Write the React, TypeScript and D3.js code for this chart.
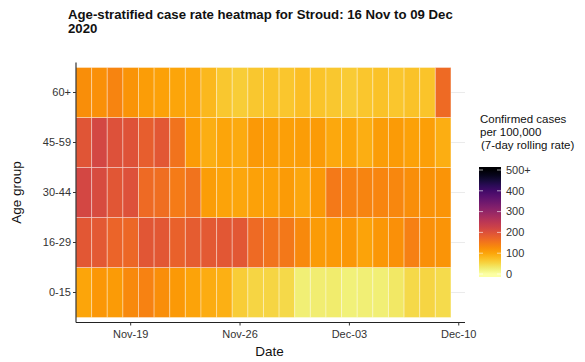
import React from "react";
import * as d3 from "d3";

const ageGroups = ["0-15", "16-29", "30-44", "45-59", "60+"];
const startDate = "2020-11-16";
const xTickLabels = ["2020-11-19", "2020-11-26", "2020-12-03", "2020-12-10"];
const legendTicks = [0, 100, 200, 300, 400, 500];

const rate0_15 = [100, 115, 110, 130, 137, 125, 112, 103, 92, 88, 60, 52, 52, 48, 25, 27, 28, 22, 24, 25, 33, 47, 52, 45];
const rate16_29 = [190, 188, 172, 168, 192, 190, 177, 185, 188, 190, 190, 166, 155, 150, 130, 110, 113, 115, 102, 115, 122, 140, 122, 118];
const rate30_44 = [215, 210, 192, 200, 165, 162, 145, 155, 108, 102, 98, 105, 105, 110, 98, 113, 148, 138, 135, 133, 132, 125, 120, 118];
const rate45_59 = [195, 215, 200, 198, 180, 190, 155, 110, 90, 100, 95, 112, 108, 106, 108, 110, 97, 100, 90, 108, 110, 105, 107, 90];
const rate60p = [125, 122, 135, 118, 108, 104, 100, 98, 82, 65, 60, 65, 70, 68, 75, 70, 65, 62, 68, 72, 68, 72, 70, 165];

const seriesByAge: Record<string, number[]> = {
  "0-15": rate0_15,
  "16-29": rate16_29,
  "30-44": rate30_44,
  "45-59": rate45_59,
  "60+": rate60p,
};

const DAY = 86400000;

export default function App() {
  const W = 585, H = 362;
  const left = 76, right = 465, top = 62.5, bottom = 322.5;
  const t0 = new Date(startDate + "T00:00:00Z").getTime();
  const x = d3.scaleUtc()
    .domain([new Date(t0 - 0.5 * DAY), new Date(t0 + 24.4 * DAY)])
    .range([left, right]);
  const y = d3.scaleBand().domain([...ageGroups].reverse()).range([top + 5, bottom - 5]).padding(0);
  const color = (v: number) => d3.interpolateInferno(1 - Math.min(v, 500) / 500);

  const cells: { date: number; age: string; v: number }[] = [];
  ageGroups.forEach((a) => {
    seriesByAge[a].forEach((v, i) => cells.push({ date: t0 + i * DAY, age: a, v }));
  });

  const fmt = d3.utcFormat("%b-%d");
  const legY = d3.scaleLinear().domain([0, 500]).range([274, 170]);
  const stops = d3.range(0, 1.0001, 0.05);
  const font = "'Liberation Sans', Arial, sans-serif";

  return (
    <svg width={W} height={H} style={{ position: "absolute", left: 0, top: 0, fontFamily: font }}>
      <rect width={W} height={H} fill="white" />
      <text x={68} y={18.5} fontSize={13.2} fontWeight="bold" fill="#111">
        Age-stratified case rate heatmap for Stroud: 16 Nov to 09 Dec
      </text>
      <text x={68} y={32.5} fontSize={13.2} fontWeight="bold" fill="#111">2020</text>

      {/* grid lines */}
      {ageGroups.map((a) => (
        <line key={"g" + a} x1={left} x2={right} y1={y(a)! + y.bandwidth() / 2} y2={y(a)! + y.bandwidth() / 2}
          stroke="#ebebeb" strokeWidth={1} />
      ))}

      {/* tiles */}
      {cells.map((c, i) => {
        const x0 = x(new Date(c.date - 0.5 * DAY));
        const x1 = x(new Date(c.date + 0.5 * DAY));
        return (
          <rect key={i} x={x0} y={y(c.age)!} width={x1 - x0} height={y.bandwidth()}
            fill={color(c.v)} stroke="rgba(255,255,255,0.35)" strokeWidth={1} />
        );
      })}

      {/* axes */}
      <line x1={left} x2={left} y1={top} y2={bottom} stroke="#222" strokeWidth={1.1} />
      <line x1={left} x2={right} y1={bottom} y2={bottom} stroke="#222" strokeWidth={1.1} />
      {ageGroups.map((a) => {
        const yy = y(a)! + y.bandwidth() / 2;
        return (
          <g key={"yt" + a}>
            <line x1={left - 3} x2={left} y1={yy} y2={yy} stroke="#333" />
            <text x={left - 5} y={yy} dy="0.35em" textAnchor="end" fontSize={11} fill="#333">{a}</text>
          </g>
        );
      })}
      {xTickLabels.map((d) => {
        const xx = x(new Date(d + "T00:00:00Z"));
        return (
          <g key={"xt" + d}>
            <line x1={xx} x2={xx} y1={bottom} y2={bottom + 3} stroke="#333" />
            <text x={xx} y={bottom + 15} textAnchor="middle" fontSize={11} fill="#333">{fmt(new Date(d + "T00:00:00Z"))}</text>
          </g>
        );
      })}
      <text x={(left + right) / 2 - 1} y={356} textAnchor="middle" fontSize={13.5} fill="#111">Date</text>
      <text transform={`translate(21,${(top + bottom) / 2}) rotate(-90)`} textAnchor="middle" fontSize={13.5} fill="#111">Age group</text>

      {/* legend */}
      <text x={480} y={123} fontSize={11.5} fill="#111">Confirmed cases</text>
      <text x={480} y={136} fontSize={11.5} fill="#111"> per 100,000</text>
      <text x={481} y={149} fontSize={11.5} fill="#111">(7-day rolling rate)</text>
      <defs>
        <linearGradient id="lg" x1="0" y1="1" x2="0" y2="0">
          {stops.map((s) => (
            <stop key={s} offset={s} stopColor={d3.interpolateInferno(1 - s)} />
          ))}
        </linearGradient>
      </defs>
      <rect x={479} y={legY(500)} width={22} height={legY(0) - legY(500)} fill="url(#lg)" />
      <rect x={479} y={legY(500) - 3} width={22} height={3} fill={d3.interpolateInferno(0)} />
      <rect x={479} y={legY(0)} width={22} height={3} fill={d3.interpolateInferno(1)} />
      {legendTicks.map((t) => (
        <g key={"lt" + t}>
          <line x1={479} x2={483} y1={legY(t)} y2={legY(t)} stroke="white" strokeOpacity={0.6} />
          <line x1={497} x2={501} y1={legY(t)} y2={legY(t)} stroke="white" strokeOpacity={0.6} />
          <text x={506} y={legY(t)} dy="0.35em" fontSize={11} fill="#333">{t === 500 ? "500+" : String(t)}</text>
        </g>
      ))}
    </svg>
  );
}
